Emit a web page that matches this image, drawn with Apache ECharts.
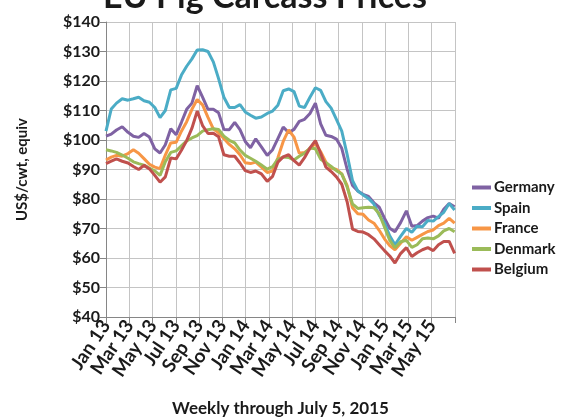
<!DOCTYPE html>
<html>
<head>
<meta charset="utf-8">
<script src="https://cdn.jsdelivr.net/npm/echarts@6/dist/echarts.min.js"></script>
<style>
html,body{margin:0;padding:0;background:#fff;}
#chart{width:568px;height:420px;}
</style>
</head>
<body>
<div id="chart"></div>
<script>
// Tick labels (every 2 months from Jan 2013)
var tickLabels = ['Jan 13','Mar 13','May 13','Jul 13','Sep 13','Nov 13','Jan 14','Mar 14','May 14','Jul 14','Sep 14','Nov 14','Jan 15','Mar 15','May 15'];
var seriesNames = ['Germany','Spain','France','Denmark','Belgium'];
// Bi-weekly observations starting the first week of Jan 2013, through early July 2015
var startDate = '2013-01-01';
var stepDays = 14;
var germany = [101.3,102,103.4,104.5,102.6,101.3,100.9,102.2,101,97,95.6,98.4,103.8,101.8,106,110.4,112.5,118.4,114.5,110.4,110.4,109.2,103.6,103.5,106,103.5,99.5,97.4,100.4,97.7,94.8,96.7,100.5,104.4,102.5,103.6,106.3,107,109,112.5,105.5,101.6,101.2,100.3,97.2,90,84.6,82.7,81.6,80.9,78.7,77.2,73.5,70.1,68.9,72,76,70.8,71,72.5,73.7,74.2,73.5,76.5,78.5,77.4];
var spain = [103,110.5,112.5,114,113.5,114,114.5,113.3,112.8,111,107.6,110,117,117.5,122,125,127.5,130.5,130.6,130,126.5,120.8,114.5,111,111,112,109.5,108.4,107.4,107.8,109,109.8,111.8,116.7,117.3,116.4,111.5,111,114.5,117.7,116.8,113,110.8,107,103,95,86.2,82.7,81.4,80.2,78.3,74.5,71.8,67.5,64.5,67.3,70,68.7,70.8,70.6,72.7,72.5,74,75.5,78.5,76.3];
var france = [93.2,94.2,94.8,94.5,95.4,96.7,95.5,93.7,91.8,90.8,90.3,94.9,99,99.2,103,106.2,110.4,113.7,111.9,107.7,103.8,102.4,100.5,98.5,97,95,92.3,92,92.5,90.8,89,89.5,94,99.5,103.4,101,95.5,95.8,97,98.8,96,92.5,90.5,90,88.5,84.5,77,75,74.8,72.9,71.8,69.4,66.5,64.2,62.8,65,67.2,66,67,68,69,69.5,71,71.8,73.4,71.8];
var denmark = [96.7,96.3,95.8,94.9,93.8,92.6,92,91.5,90.5,89.5,88,92.6,95.8,96.3,98,99.7,100.7,101.5,103,103.5,103.8,103.6,101.3,99.9,99,96.6,94.8,93.8,92.8,91.5,90.1,91,93.5,94.2,94.1,93.2,94.5,95.5,97.3,97,93.5,92.3,91,89.6,88.5,84,78.3,76.8,77,77.2,77,75,70.5,66,63.5,65.5,66,63.6,64.5,66.5,66.8,66.5,67.5,69.2,70,68.9];
var belgium = [92,92.8,93.6,92.8,92.2,91,90,91.4,90.2,88,85.7,87.5,93.9,93.6,96.5,99.8,104,109.8,104.9,102.2,102.3,101.1,95,94.5,94.5,92.2,89.6,89,89.5,88.5,86,87.7,92.5,94.3,95,93,91.5,94,97.3,99.8,95.5,90.8,89.3,87.5,85,79,69.8,69,68.8,67.9,66.5,64.5,62.5,60.7,58.3,61.5,63.5,60.5,61.8,62.8,63.5,62.5,64.5,65.6,65.6,61.6];

var colors = ['#7F62A3','#4BACC6','#F79646','#9BBB59','#C0504D'];
var allValues = [germany, spain, france, denmark, belgium];

// x position in months since Jan 1 2013
var t0 = new Date(startDate + 'T00:00:00Z').getTime();
var dayMs = 86400000;
function monthPos(i){
  var d = new Date(t0 + i * stepDays * dayMs);
  var y = d.getUTCFullYear() - 2013;
  var m = d.getUTCMonth();
  var dim = new Date(Date.UTC(d.getUTCFullYear(), m + 1, 0)).getUTCDate();
  return y * 12 + m + (d.getUTCDate() - 1) / dim;
}

var font = 'Lato, "Open Sans", sans-serif';
var series = seriesNames.map(function(name, si){
  return {
    name: name,
    type: 'line',
    showSymbol: false,
    symbol: 'none',
    lineStyle: {width: 3, color: colors[si]},
    itemStyle: {color: colors[si]},
    data: allValues[si].map(function(v, i){ return [monthPos(i), v]; }),
    z: 2 + si
  };
});

var chart = echarts.init(document.getElementById('chart'));
chart.setOption({
  animation: false,
  color: colors,
  title: {
    text: 'EU Pig Carcass Prices',
    left: 103,
    top: -20,
    padding: 0,
    textStyle: {fontFamily: font, fontSize: 34, fontWeight: 'bold', color: '#1a1a1a'}
  },
  grid: {left: 106, right: 113, top: 22, bottom: 103, containLabel: false, outerBoundsMode: 'none'},
  legend: {
    orient: 'vertical',
    left: 467,
    top: 175,
    itemWidth: 19,
    itemHeight: 4,
    itemGap: 5.5,
    icon: 'rect',
    textStyle: {fontFamily: font, fontSize: 15, fontWeight: 'bold', color: '#1a1a1a', padding: [0,0,0,-2]},
    data: seriesNames
  },
  xAxis: {
    type: 'value',
    min: 0,
    max: 30,
    interval: 2,
    name: 'Weekly through July 5, 2015',
    nameLocation: 'middle',
    nameGap: 83,
    nameTextStyle: {fontFamily: font, fontSize: 17, fontWeight: 'bold', color: '#1a1a1a'},
    axisLine: {show: true, lineStyle: {color: '#868686', width: 1}},
    axisTick: {show: true, length: 6, lineStyle: {color: '#868686'}},
    splitLine: {show: true, lineStyle: {color: '#c4c4c4', width: 1}},
    axisLabel: {
      rotate: 56,
      margin: 5,
      fontFamily: font, fontSize: 19, fontWeight: 'bold', color: '#1a1a1a',
      formatter: function(v){ var i = Math.round(v / 2); return tickLabels[i] || ''; }
    }
  },
  yAxis: {
    type: 'value',
    min: 40,
    max: 140,
    interval: 10,
    name: 'US$/cwt, equiv',
    nameLocation: 'middle',
    nameGap: 76,
    nameTextStyle: {fontFamily: font, fontSize: 15, fontWeight: 'bold', color: '#1a1a1a'},
    axisLine: {show: true, lineStyle: {color: '#868686', width: 1}},
    axisTick: {show: true, length: 6, lineStyle: {color: '#868686'}},
    splitLine: {show: true, lineStyle: {color: '#c4c4c4', width: 1}},
    axisLabel: {
      margin: 6,
      fontFamily: font, fontSize: 16, fontWeight: 'bold', color: '#1a1a1a',
      formatter: function(v){ return '$' + v; }
    }
  },
  series: series
});
</script>
</body>
</html>
